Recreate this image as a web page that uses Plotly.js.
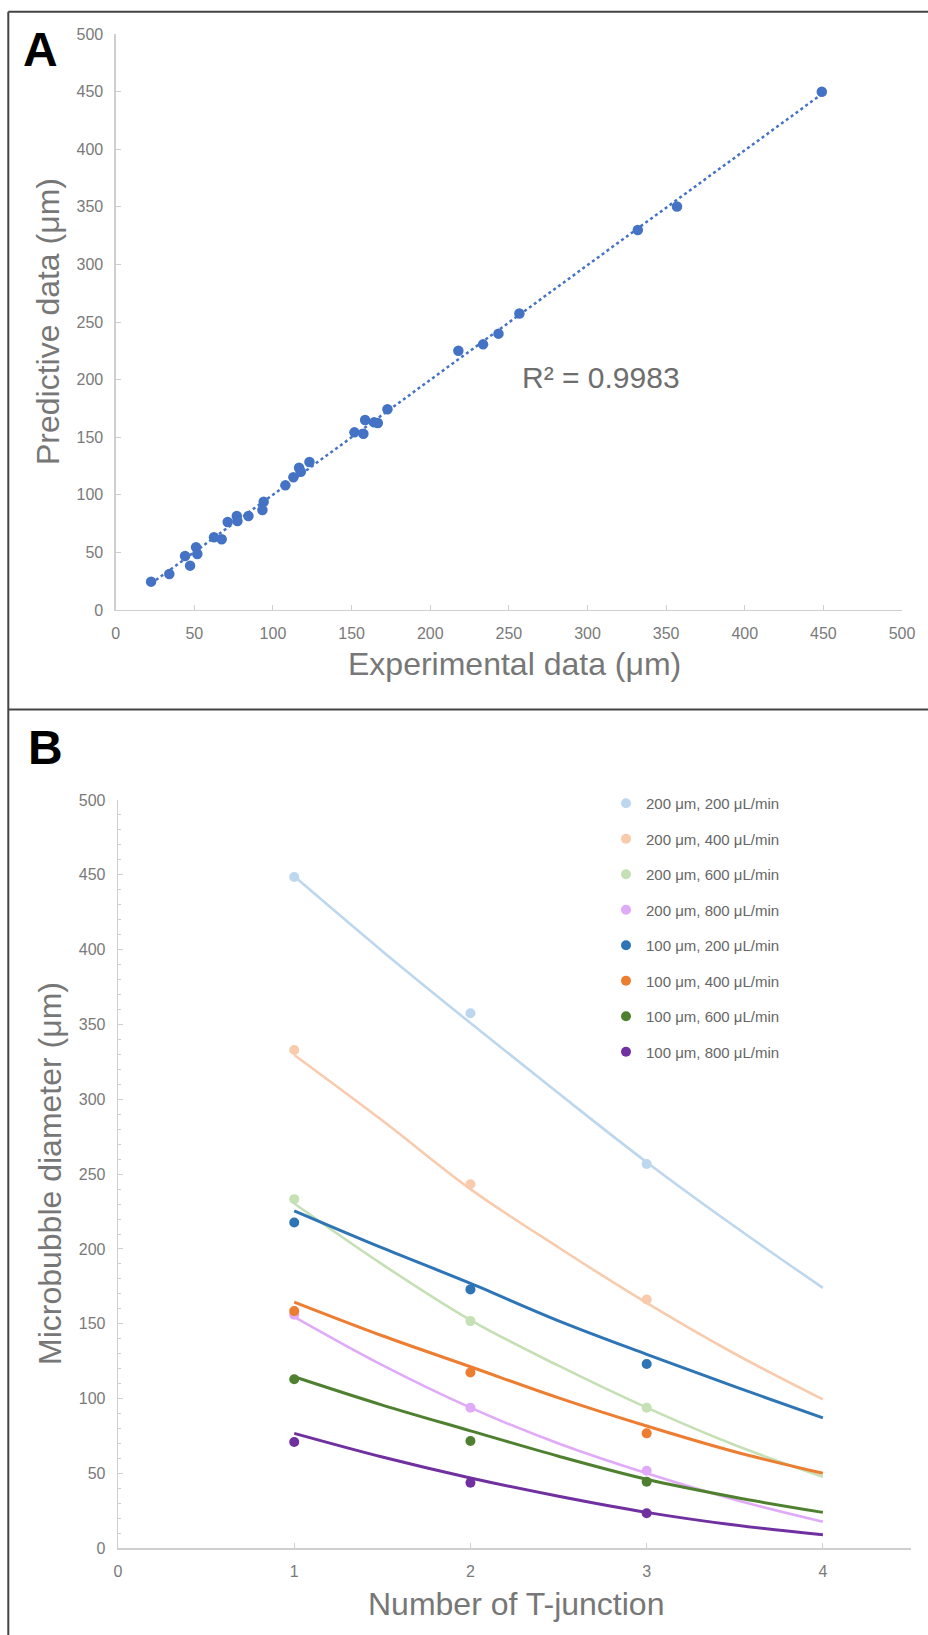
<!DOCTYPE html>
<html><head><meta charset="utf-8">
<script src="https://cdn.plot.ly/plotly-3.0.1.min.js"></script>
<style>html,body{margin:0;padding:0;background:#fff}#chart{width:928px;height:1635px}</style>
</head><body><div id="chart"></div>
<script>
// ---------- Panel A data ----------
const experimentalData = [22.5, 34.1, 44.1, 47.3, 51.1, 51.9, 62.5, 67.4, 71.2, 77.0, 77.4, 84.4, 93.3, 94.1, 107.9, 113.0, 116.6, 117.7, 123.2, 151.8, 157.5, 158.6, 164.3, 166.7, 172.8, 217.9, 233.6, 243.4, 256.7, 332.0, 356.9, 449.0];
const predictiveData  = [24.6, 31.2, 46.9, 38.5, 54.4, 48.6, 63.1, 61.4, 76.4, 81.6, 77.3, 81.6, 86.8, 94.0, 108.2, 115.2, 123.5, 120.0, 128.5, 154.2, 153.0, 164.9, 162.9, 162.3, 174.2, 225.1, 230.6, 239.9, 257.4, 329.9, 350.3, 449.9];
const rSquaredText = "R² = 0.9983";
const axisTicksA = [0, 50, 100, 150, 200, 250, 300, 350, 400, 450, 500];

// ---------- Panel B data ----------
const tJunction = [1, 2, 3];
const seriesNames = ["200 μm, 200 μL/min", "200 μm, 400 μL/min", "200 μm, 600 μL/min", "200 μm, 800 μL/min",
                     "100 μm, 200 μL/min", "100 μm, 400 μL/min", "100 μm, 600 μL/min", "100 μm, 800 μL/min"];
const d200_200 = [448.5, 357.5, 256.8];
const d200_400 = [333.0, 243.3, 166.3];
const d200_600 = [233.3, 151.8, 93.9];
const d200_800 = [156.0, 93.9, 51.8];
const d100_200 = [217.7, 173.0, 123.1];
const d100_400 = [158.5, 117.5, 76.8];
const d100_600 = [112.9, 71.7, 44.5];
const d100_800 = [71.0, 43.8, 23.4];
// model curves read at these T-junction numbers
const curveX = [1, 1.5, 2, 2.5, 3, 3.5, 4];
const m200_200 = [449.0, 399.0, 351.0, 304.0, 258.0, 215.0, 174.0];
const m200_400 = [329.6, 285.8, 240.0, 201.0, 164.0, 130.0, 99.5];
const m200_600 = [230.4, 189.7, 152.5, 122.0, 94.0, 69.0, 47.8];
const m200_800 = [154.7, 122.4, 94.0, 70.0, 50.1, 32.5, 17.8];
const m100_200 = [225.5, 200.7, 177.0, 152.0, 129.6, 108.0, 87.2];
const m100_400 = [164.5, 142.0, 121.3, 100.5, 81.7, 64.5, 50.1];
const m100_600 = [114.6, 95.7, 78.5, 61.5, 46.1, 34.1, 24.0];
const m100_800 = [76.8, 61.0, 47.0, 34.8, 24.0, 15.5, 9.0];
const tickValsBX = [0, 1, 2, 3, 4];

// ---------- helpers ----------
const W = 928, H = 1635;
const px = v => v / W;
const py = v => 1 - v / H;
const FONT = "Liberation Sans, Arial, Helvetica, sans-serif";
const TICKC = "#7a7a7a", TITLEC = "#777777", AXC = "#cfcfcf";

// linear trend for panel A (least squares on the data)
const n = experimentalData.length;
const mx = experimentalData.reduce((a, b) => a + b, 0) / n;
const my = predictiveData.reduce((a, b) => a + b, 0) / n;
let sxy = 0, sxx = 0;
for (let i = 0; i < n; i++) { sxy += (experimentalData[i] - mx) * (predictiveData[i] - my); sxx += (experimentalData[i] - mx) ** 2; }
const slope = sxy / sxx, icpt = my - slope * mx;
const trendX = [Math.min(...experimentalData), Math.max(...experimentalData)];
const trendY = trendX.map(x => icpt + slope * x);

const traces = [];
traces.push({x: trendX, y: trendY, mode: "lines", xaxis: "x", yaxis: "y", showlegend: false,
  line: {color: "#4472c4", width: 2.5, dash: "dot"}, hoverinfo: "skip"});
traces.push({x: experimentalData, y: predictiveData, mode: "markers", xaxis: "x", yaxis: "y", showlegend: false,
  marker: {color: "#4472c4", size: 10.5}});

const measured = [d200_200, d200_400, d200_600, d200_800, d100_200, d100_400, d100_600, d100_800];
const model = [m200_200, m200_400, m200_600, m200_800, m100_200, m100_400, m100_600, m100_800];
const colors = ["#bdd7ee", "#f8cbad", "#c5e0b4", "#e0aaf8", "#2e75b6", "#ed7d31", "#4f8030", "#7030a0"];
const widths = [2.6, 2.6, 2.6, 2.6, 3, 3, 3, 3];
for (let i = 0; i < 8; i++) {
  traces.push({x: curveX, y: model[i], mode: "lines", xaxis: "x2", yaxis: "y2", showlegend: false,
    legendgroup: "g" + i, line: {color: colors[i], width: widths[i], shape: "spline", smoothing: 1}});
}
for (let i = 0; i < 8; i++) {
  traces.push({x: tJunction, y: measured[i], mode: "markers", xaxis: "x2", yaxis: "y2", name: seriesNames[i],
    legendgroup: "g" + i, marker: {color: colors[i], size: 10}});
}

const tickfont = {family: FONT, size: 16, color: TICKC};
const baseAxis = {showline: true, linecolor: AXC, linewidth: 1.3, showgrid: false, zeroline: false,
  ticks: "inside", ticklen: 5, tickcolor: AXC, tickwidth: 1, tickfont: tickfont, ticklabelstandoff: 8, fixedrange: true};

const ann = (text, x, y, size, color, extra) => Object.assign({text: text, x: px(x), y: py(y), xref: "paper", yref: "paper",
  showarrow: false, xanchor: "center", yanchor: "middle", font: {family: FONT, size: size, color: color}}, extra || {});

const layout = {
  width: W, height: H, margin: {l: 0, r: 0, t: 0, b: 0}, paper_bgcolor: "#fff", plot_bgcolor: "#fff",
  font: {family: FONT},
  xaxis: Object.assign({}, baseAxis, {domain: [px(115.7), px(902)], anchor: "y", range: [0, 500], tickvals: axisTicksA}),
  yaxis: Object.assign({}, baseAxis, {domain: [py(610), py(34)], anchor: "x", range: [0, 500], tickvals: axisTicksA}),
  xaxis2: Object.assign({}, baseAxis, {domain: [px(118), px(911)], anchor: "y2", range: [0, 4.5], tickvals: tickValsBX}),
  yaxis2: Object.assign({}, baseAxis, {domain: [py(1548.3), py(800)], anchor: "x2", range: [0, 500], dtick: 50, tick0: 0,
    minor: {dtick: 10, ticks: "inside", ticklen: 3, tickcolor: AXC}}),
  showlegend: true,
  legend: {x: px(606), y: py(787), xanchor: "left", yanchor: "top", font: {family: FONT, size: 15, color: "#666666"},
    bgcolor: "rgba(0,0,0,0)", tracegroupgap: 13, itemwidth: 30},
  annotations: [
    ann("<b>A</b>", 40.5, 49.5, 48, "#000"),
    ann("<b>B</b>", 45, 747.5, 48, "#000"),
    ann(rSquaredText, 600.6, 377.5, 30, "#6e6e6e"),
    ann("Experimental data (μm)", 514, 664, 32, TITLEC),
    ann("Predictive data (μm)", 48, 322, 32, TITLEC, {textangle: -90}),
    ann("Number of T-junction", 516, 1604, 32, TITLEC),
    ann("Microbubble diameter (μm)", 50, 1174, 32, TITLEC, {textangle: -90})
  ],
  shapes: [
    {type: "line", xref: "paper", yref: "paper", x0: px(8.3), x1: 1, y0: py(11.7), y1: py(11.7), line: {color: "#444", width: 2}},
    {type: "line", xref: "paper", yref: "paper", x0: px(8.3), x1: 1, y0: py(709.5), y1: py(709.5), line: {color: "#444", width: 2}},
    {type: "line", xref: "paper", yref: "paper", x0: px(8.3), x1: px(8.3), y0: py(11.7), y1: 0, line: {color: "#444", width: 2}}
  ]
};
Plotly.newPlot("chart", traces, layout, {staticPlot: true, displayModeBar: false});
</script></body></html>
